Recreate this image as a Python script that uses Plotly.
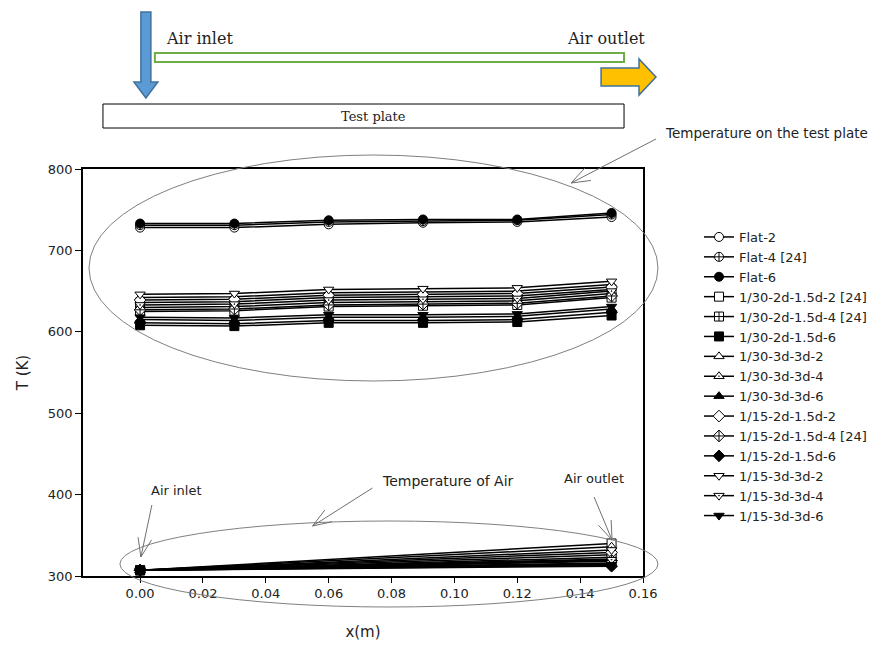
import math
import plotly.graph_objects as go

# ---------------- data ----------------
x_plate = [0.0, 0.03, 0.06, 0.09, 0.12, 0.15]
x_air = [0.0, 0.15]

series_names = [
    "Flat-2", "Flat-4 [24]", "Flat-6",
    "1/30-2d-1.5d-2 [24]", "1/30-2d-1.5d-4 [24]", "1/30-2d-1.5d-6",
    "1/30-3d-3d-2", "1/30-3d-3d-4", "1/30-3d-3d-6",
    "1/15-2d-1.5d-2", "1/15-2d-1.5d-4 [24]", "1/15-2d-1.5d-6",
    "1/15-3d-3d-2", "1/15-3d-3d-4", "1/15-3d-3d-6",
]

T_plate = {
    "Flat-2":              [728, 728, 732, 734, 735, 741],
    "Flat-4 [24]":         [731, 731, 735, 736, 737, 744],
    "Flat-6":              [733, 733, 737, 738, 738, 746],
    "1/30-2d-1.5d-2 [24]": [636, 637, 642, 643, 644, 652],
    "1/30-2d-1.5d-4 [24]": [625, 626, 631, 632, 633, 642],
    "1/30-2d-1.5d-6":      [608, 607, 611, 611, 612, 620],
    "1/30-3d-3d-2":        [642, 643, 648, 649, 650, 658],
    "1/30-3d-3d-4":        [630, 631, 636, 637, 638, 647],
    "1/30-3d-3d-6":        [615, 614, 618, 618, 619, 628],
    "1/15-2d-1.5d-2":      [639, 640, 645, 646, 647, 655],
    "1/15-2d-1.5d-4 [24]": [627, 628, 633, 634, 635, 644],
    "1/15-2d-1.5d-6":      [611, 610, 614, 614, 615, 624],
    "1/15-3d-3d-2":        [646, 647, 652, 653, 654, 662],
    "1/15-3d-3d-4":        [633, 634, 639, 640, 641, 650],
    "1/15-3d-3d-6":        [618, 617, 621, 621, 622, 631],
}

T_air = {
    "Flat-2":              [307, 326],
    "Flat-4 [24]":         [307, 318],
    "Flat-6":              [307, 313],
    "1/30-2d-1.5d-2 [24]": [307, 340],
    "1/30-2d-1.5d-4 [24]": [307, 323],
    "1/30-2d-1.5d-6":      [307, 316],
    "1/30-3d-3d-2":        [307, 336],
    "1/30-3d-3d-4":        [307, 321],
    "1/30-3d-3d-6":        [307, 315],
    "1/15-2d-1.5d-2":      [307, 329],
    "1/15-2d-1.5d-4 [24]": [307, 319],
    "1/15-2d-1.5d-6":      [307, 312],
    "1/15-3d-3d-2":        [307, 332],
    "1/15-3d-3d-4":        [307, 320],
    "1/15-3d-3d-6":        [307, 314],
}

symbols = {
    "Flat-2": ("circle", "white"), "Flat-4 [24]": ("circle-cross", "white"), "Flat-6": ("circle", "black"),
    "1/30-2d-1.5d-2 [24]": ("square", "white"), "1/30-2d-1.5d-4 [24]": ("square-cross", "white"),
    "1/30-2d-1.5d-6": ("square", "black"),
    "1/30-3d-3d-2": ("triangle-up", "white"), "1/30-3d-3d-4": ("triangle-up-dot", "white"),
    "1/30-3d-3d-6": ("triangle-up", "black"),
    "1/15-2d-1.5d-2": ("diamond", "white"), "1/15-2d-1.5d-4 [24]": ("diamond-cross", "white"),
    "1/15-2d-1.5d-6": ("diamond", "black"),
    "1/15-3d-3d-2": ("triangle-down", "white"), "1/15-3d-3d-4": ("triangle-down-dot", "white"),
    "1/15-3d-3d-6": ("triangle-down", "black"),
}

x_ticks = [0.0, 0.02, 0.04, 0.06, 0.08, 0.10, 0.12, 0.14, 0.16]
y_ticks = [300, 400, 500, 600, 700, 800]

# ---------------- layout geometry (pixels, page coordinates) ----------------
W, H = 883, 646
OFF = 8  # default body margin of the html page
L, R, T, B = 83, 644, 169, 576

SANS = "DejaVu Sans"
SERIF = "DejaVu Serif"
TXT = "#222222"


def px(v):
    return (v - L) / (R - L)


def py(v):
    return (B - v) / (B - T)


fig = go.Figure()
for name in series_names:
    sym, fill = symbols[name]
    fig.add_trace(go.Scatter(
        x=x_plate + [None] + x_air,
        y=T_plate[name] + [None] + T_air[name],
        mode="lines+markers",
        name=name,
        connectgaps=False,
        line=dict(color="black", width=1.5),
        marker=dict(symbol=sym, size=9, color=fill, line=dict(color="black", width=1)),
    ))

shapes = []
annos = []


def line(x0, y0, x1, y1, color="#707070", width=1):
    shapes.append(dict(type="line", xref="paper", yref="paper",
                       x0=px(x0), y0=py(y0), x1=px(x1), y1=py(y1),
                       line=dict(color=color, width=width)))


def arrow(x0, y0, x1, y1):
    line(x0, y0, x1, y1)
    ang = math.atan2(y0 - y1, x0 - x1)
    for d in (0.35, -0.35):
        a = ang + d
        line(x1, y1, x1 + 20 * math.cos(a), y1 + 20 * math.sin(a))


def ellipse(x0, y0, x1, y1):
    shapes.append(dict(type="circle", xref="paper", yref="paper",
                       x0=px(x0), y0=py(y1), x1=px(x1), y1=py(y0),
                       line=dict(color="#808080", width=1)))


def text(x, y, s, size=14, family=SANS, xanchor="left"):
    annos.append(dict(x=px(x), y=py(y), xref="paper", yref="paper", text=s, showarrow=False,
                      xanchor=xanchor, yanchor="middle",
                      font=dict(family=family, size=size, color=TXT)))


def path(pts, fill, lc):
    d = "M " + " L ".join(f"{px(a)},{py(b)}" for a, b in pts) + " Z"
    shapes.append(dict(type="path", xref="paper", yref="paper", path=d,
                       fillcolor=fill, line=dict(color=lc, width=1.5)))


# ellipses and arrows in the chart
ellipse(89, 155, 659, 381)
ellipse(120, 521, 659, 607)
arrow(657, 139, 572, 183)
arrow(373, 488, 313, 526)
arrow(152, 505, 141, 557)
arrow(595, 497, 613, 540)
text(664, 133, "Temperature on the test plate", 13.5)
text(381, 481, "Temperature of Air", 14)
text(149, 490, "Air inlet", 13)
text(563, 478, "Air outlet", 13)

# top diagram
path([(141, 12), (151, 12), (151, 82), (158, 82), (146, 98), (134, 82), (141, 82)], "#5B9BD5", "#41719C")
shapes.append(dict(type="rect", xref="paper", yref="paper", x0=px(155), y0=py(62), x1=px(625), y1=py(53),
                   fillcolor="white", line=dict(color="#70AD47", width=2)))
path([(602, 68), (640, 68), (640, 59), (657, 77), (640, 95), (640, 86), (602, 86)], "#FFC000", "#41719C")
shapes.append(dict(type="rect", xref="paper", yref="paper", x0=px(103), y0=py(128), x1=px(625), y1=py(104),
                   fillcolor="white", line=dict(color="black", width=1)))
text(374, 116, "Test plate", 13, SERIF, "center")
text(164, 39, "Air inlet", 16, SERIF)
text(566, 39, "Air outlet", 16, SERIF)

fig.update_layout(
    width=W - OFF, height=H - OFF,
    margin=dict(l=L - OFF, r=W - R, t=T - OFF, b=H - B),
    paper_bgcolor="white", plot_bgcolor="white",
    shapes=shapes, annotations=annos,
    showlegend=True,
    legend=dict(x=px(699), y=py(222), xanchor="left", yanchor="top",
                font=dict(family=SANS, size=13, color=TXT),
                bgcolor="rgba(0,0,0,0)", tracegroupgap=0),
    font=dict(family=SANS, color=TXT),
)
fig.update_xaxes(range=[-0.01816, 0.16], tickvals=x_ticks, tickformat=".2f",
                 ticks="outside", ticklen=5, tickcolor="black", automargin=False,
                 showline=True, linecolor="black", linewidth=1.5, mirror=True,
                 showgrid=False, zeroline=False,
                 tickfont=dict(family=SANS, size=13, color=TXT),
                 title=dict(text="x(m)", font=dict(family=SANS, size=15, color=TXT), standoff=26))
fig.update_yaxes(range=[300, 800], tickvals=y_ticks,
                 ticks="outside", ticklen=6, tickcolor="black", automargin=False,
                 showline=True, linecolor="black", linewidth=1.5, mirror=True,
                 showgrid=False, zeroline=False,
                 tickfont=dict(family=SANS, size=13, color=TXT),
                 title=dict(text="T (K)", font=dict(family=SANS, size=15, color=TXT), standoff=16))

fig.write_html("out.html")
